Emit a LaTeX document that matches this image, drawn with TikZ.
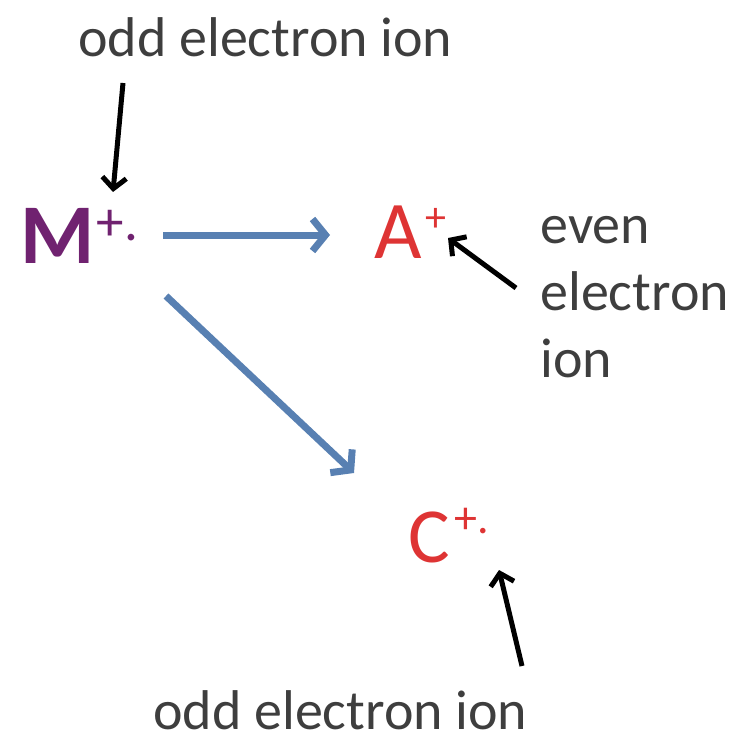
\documentclass[tikz,border=0pt]{standalone}
\usepackage{fontspec}
\setmainfont{Carlito}
\usetikzlibrary{arrows.meta}
\definecolor{ionpurple}{RGB}{112,34,112}
\definecolor{ionred}{RGB}{222,52,52}
\definecolor{flowblue}{RGB}{88,128,178}
\definecolor{lblgray}{RGB}{62,62,62}
\tikzset{
  every picture/.style={line width=0.7pt},
  slbl/.style={anchor=base west, inner sep=0pt, text=lblgray,
               font=\fontsize{56}{67}\selectfont},
  sion/.style={anchor=base west, inner sep=0pt},
  sflow/.style={draw=flowblue, line width=7pt,
                -{Straight Barb[length=13pt,width=32pt]}},
  spoint/.style={draw=black, line width=5pt,
                 -{Straight Barb[length=11pt,width=24pt]}},
}

\begin{document}
\begin{tikzpicture}[x=1pt,y=-1pt]
  \useasboundingbox (0,0) rectangle (739,743);
  % labels
  \node[slbl] (oddtop) at (78,57) {odd electron ion};
  \node[slbl, align=left] (evenlbl) at (540,377)
       {even\\[-0.4pt]electron\\[-0.4pt]ion};
  \node[slbl] (oddbot) at (153,729) {odd electron ion};
  % ions
  \node[sion, text=ionpurple] (ionM) at (20,263)
       {\fontsize{85}{85}\selectfont\bfseries M\mdseries\hspace{2pt}\raisebox{23pt}{\fontsize{55}{55}\selectfont +.}};
  \node[sion, text=ionred] (ionA) at (374,258)
       {\fontsize{82}{82}\selectfont A\hspace{4pt}\raisebox{27pt}{\fontsize{42}{42}\selectfont +}};
  \node[sion, text=ionred] (ionC) at (408,562)
       {\fontsize{78}{78}\selectfont C\hspace{5pt}\raisebox{29pt}{\fontsize{46}{46}\selectfont +.}};
  % arrow ends
  \coordinate (mTail)  at (163,235);
  \coordinate (aTip)   at (330,235);
  \coordinate (cTail)  at (166,296);
  \coordinate (cTip)   at (354,473);
  \coordinate (topTail) at (123,83);
  \coordinate (topTip)  at (113,192);
  \coordinate (aPtTail) at (516,288);
  \coordinate (aPtTip)  at (448,238);
  \coordinate (cPtTail) at (522,666);
  \coordinate (cPtTip)  at (499,570);
  % fragmentation
  \draw[sflow] (mTail) -- (aTip);
  \draw[sflow] (cTail) -- (cTip);
  % pointers
  \draw[spoint] (topTail) -- (topTip);
  \draw[spoint] (aPtTail) -- (aPtTip);
  \draw[spoint] (cPtTail) -- (cPtTip);
\end{tikzpicture}
\end{document}
